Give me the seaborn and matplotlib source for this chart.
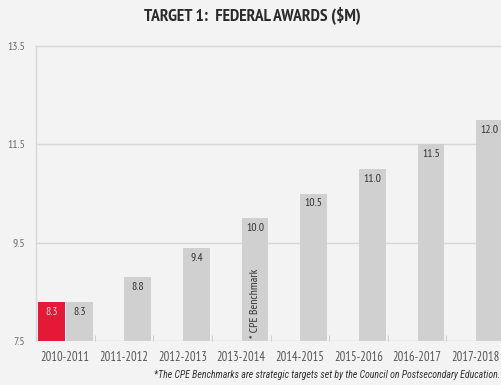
import matplotlib
matplotlib.use("Agg")
import matplotlib.pyplot as plt
import seaborn as sns
import pandas as pd
import numpy as np

years = ["2010-2011", "2011-2012", "2012-2013", "2013-2014", "2014-2015",
         "2015-2016", "2016-2017", "2017-2018"]
actual = [8.3, np.nan, np.nan, np.nan, np.nan, np.nan, np.nan, np.nan]
benchmark = [8.3, 8.8, 9.4, 10.0, 10.5, 11.0, 11.5, 12.0]
y_ticks = [7.5, 9.5, 11.5, 13.5]

BG = "#f3f3f3"
RED = "#e31937"
GRAY = "#d0d0d0"
NARROW = ["PT Sans Narrow", "DejaVu Sans"]
ITALIC = ["Roboto Condensed", "DejaVu Sans"]

sns.set_theme(style="white")
plt.rcParams["font.family"] = NARROW

df = pd.DataFrame({
    "year": years * 2,
    "series": ["Actual"] * len(years) + ["Benchmark"] * len(years),
    "value": actual + benchmark,
})

fig = plt.figure(figsize=(5.02, 3.85), dpi=100, facecolor=BG)
ax = fig.add_axes([36 / 502, 44 / 385, 469 / 502, 295 / 385])
ax.set_facecolor(BG)

sns.barplot(data=df, x="year", y="value", hue="series",
            palette={"Actual": RED, "Benchmark": GRAY}, saturation=1,
            width=0.95, gap=0.04, linewidth=0, legend=False, ax=ax,
            errorbar=None)

ax.set_ylim(7.5, 13.5)
ax.set_xlim(-0.5, len(years) - 0.5)
ax.set_yticks(y_ticks)
ax.set_yticklabels([f"{v:.1f}" for v in y_ticks])
ax.set_xlabel("")
ax.set_ylabel("")
ax.tick_params(axis="y", length=0, labelsize=8.5, labelcolor="#6a6a6a", pad=8)
ax.tick_params(axis="x", length=0, labelsize=9, labelcolor="#555555", pad=7)
ax.yaxis.grid(True, color="#d8d8d8", linewidth=1)
ax.set_axisbelow(True)
ax.set_xticks(np.arange(0.5, len(years) - 0.5), minor=True)
ax.tick_params(axis="x", which="minor", direction="in", length=4,
               color="#cfcfcf", width=0.8, bottom=True)

for s in ["right", "bottom"]:
    ax.spines[s].set_visible(False)
for s in ["left", "top"]:
    ax.spines[s].set_color("#d8d8d8")
    ax.spines[s].set_linewidth(1)

# value labels inside each bar, just below its top
for bar_container, color in zip(ax.containers, ["#f4d0d6", "#333333"]):
    for patch in bar_container:
        h = patch.get_height()
        if np.isnan(h) or h == 0:
            continue
        top = patch.get_y() + h
        ax.text(patch.get_x() + patch.get_width() / 2, top - 0.1,
                f"{top:.1f}", ha="center", va="top",
                fontsize=8.5, color=color)

# benchmark note rotated inside the 2013-2014 bar
bench_bar = ax.containers[1][3]
ax.text(bench_bar.get_x() + bench_bar.get_width() / 2, 7.56,
        "* CPE Benchmark", rotation=90, ha="center", va="bottom",
        fontsize=8.5, color="#333333")

fig.text(0.502, 0.96, "TARGET 1:  FEDERAL AWARDS ($M)", ha="center", va="center",
         fontsize=12.5, fontweight="bold", color="#2a2a2a")
fig.text(0.997, 0.025,
         "*The CPE Benchmarks are strategic targets set by the Council on Postsecondary Education.",
         ha="right", va="center", fontsize=7.1, style="italic", color="#333333",
         family=ITALIC)

fig.savefig("out.png", dpi=100, facecolor=BG)
